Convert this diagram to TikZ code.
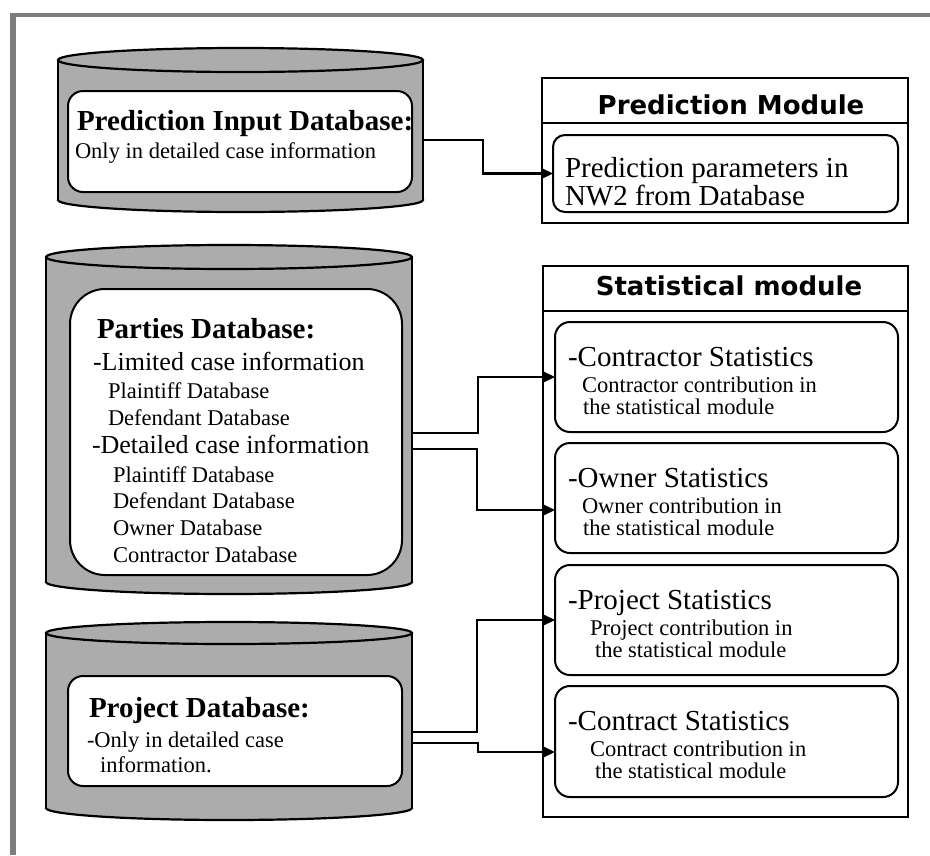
\documentclass[tikz,border=0pt]{standalone}
\usepackage{fontspec}
\setmainfont{Liberation Serif}
\newfontfamily\modfont{DejaVu Sans}
\usetikzlibrary{arrows.meta}

\definecolor{cylgray}{RGB}{172,172,172}
\definecolor{framegray}{RGB}{125,125,125}

\newcommand\fsHead{\fontsize{29}{29}\selectfont\bfseries}
\newcommand\fsBig{\fontsize{29}{29}\selectfont}
\newcommand\fsMid{\fontsize{26}{26}\selectfont}
\newcommand\fsSub{\fontsize{22.5}{22.5}\selectfont}
\newcommand\fsMod{\modfont\fontsize{26}{26}\selectfont\bfseries}

\begin{document}
\begin{tikzpicture}[x=1pt,y=-1pt,
  cyl/.style={line width=2.2pt, draw=black, fill=cylgray},
  body/.style={draw=none, inner sep=0, outer sep=0},
  innerbox/.style={draw=black, line width=2pt, fill=white, inner sep=0, outer sep=0},
  modbox/.style={draw=black, line width=2.8pt, fill=white, inner sep=0, outer sep=0},
  txt/.style={anchor=base west, inner sep=0, outer sep=0},
  modtitle/.style={anchor=base, inner sep=0, outer sep=0, font=\fsMod},
  conn/.style={line width=2.1pt, -{Triangle[length=12pt,width=11pt]}}
]
\useasboundingbox (0,0) rectangle (930,855);

% page frame strips (top and left)
\fill[framegray] (10,13) rectangle (930,17);
\fill[framegray] (10,13) rectangle (16,855);

% ---------- Prediction input database cylinder ----------
\node[body, minimum width=365pt, minimum height=140pt] (cylA) at (240.5,130) {};
\filldraw[cyl] (cylA.south) ellipse [x radius=182.5pt, y radius=12pt];
\fill[cylgray] (cylA.south west) rectangle (cylA.north east);
\draw[cyl, fill=none] (cylA.south west) -- (cylA.north west) (cylA.south east) -- (cylA.north east);
\filldraw[cyl] (cylA.north) ellipse [x radius=182.5pt, y radius=12pt];
\node[innerbox, rounded corners=15pt, minimum width=344pt, minimum height=101pt] (inA) at (240,141.5) {};
\node[txt, font=\fsHead] (inAt) at (77,130) {Prediction Input Database:};
\node[txt, font=\fsSub] (inAs) at (75,158) {Only in detailed case information};

% ---------- Parties database cylinder ----------
\node[body, minimum width=366pt, minimum height=325pt] (cylB) at (229,419.5) {};
\filldraw[cyl] (cylB.south) ellipse [x radius=183pt, y radius=12pt];
\fill[cylgray] (cylB.south west) rectangle (cylB.north east);
\draw[cyl, fill=none] (cylB.south west) -- (cylB.north west) (cylB.south east) -- (cylB.north east);
\filldraw[cyl] (cylB.north) ellipse [x radius=183pt, y radius=12pt];
\node[innerbox, rounded corners=35pt, minimum width=332pt, minimum height=286pt] (inB) at (236,432) {};
\node[txt, font=\fsHead] (inBt) at (97,338) {Parties Database:};
\node[txt, font=\fsMid] (inB1) at (93,370) {-Limited case information};
\node[txt, font=\fsSub] (inB2) at (108,398) {Plaintiff Database};
\node[txt, font=\fsSub] (inB3) at (108,425) {Defendant Database};
\node[txt, font=\fsMid] (inB4) at (92,453) {-Detailed case information};
\node[txt, font=\fsSub] (inB5) at (113,482) {Plaintiff Database};
\node[txt, font=\fsSub] (inB6) at (113,508) {Defendant Database};
\node[txt, font=\fsSub] (inB7) at (113,535) {Owner Database};
\node[txt, font=\fsSub] (inB8) at (113,562) {Contractor Database};

% ---------- Project database cylinder ----------
\node[body, minimum width=366pt, minimum height=175pt] (cylC) at (229,720.5) {};
\filldraw[cyl] (cylC.south) ellipse [x radius=183pt, y radius=12pt];
\fill[cylgray] (cylC.south west) rectangle (cylC.north east);
\draw[cyl, fill=none] (cylC.south west) -- (cylC.north west) (cylC.south east) -- (cylC.north east);
\filldraw[cyl] (cylC.north) ellipse [x radius=183pt, y radius=11pt];
\node[innerbox, rounded corners=15pt, minimum width=334pt, minimum height=110pt] (inC) at (235,731) {};
\node[txt, font=\fsHead] (inCt) at (89,717) {Project Database:};
\node[txt, font=\fsSub] (inC1) at (87,747) {-Only in detailed case};
\node[txt, font=\fsSub] (inC2) at (100,772) {information.};

% ---------- Prediction module ----------
\node[modbox, minimum width=366pt, minimum height=145pt] (pm) at (725,150.5) {};
\node[modbox, minimum width=366pt, minimum height=45pt] (pmHead) at (725,100.5) {};
\node[modtitle] (pmTitle) at (731,114) {Prediction Module};
\node[innerbox, rounded corners=12pt, minimum width=345pt, minimum height=77pt] (pin) at (725.5,173.5) {};
\node[txt, font=\fsBig] (pin1) at (565,177) {Prediction parameters in};
\node[txt, font=\fsBig] (pin2) at (565,205) {NW2 from Database};

% ---------- Statistical module ----------
\node[modbox, minimum width=365pt, minimum height=551pt] (sm) at (725.5,541.5) {};
\node[modbox, minimum width=365pt, minimum height=45pt] (smHead) at (725.5,288.5) {};
\node[modtitle] (smTitle) at (729,295) {Statistical module};

\node[innerbox, rounded corners=15pt, minimum width=343pt, minimum height=110pt] (st1) at (726.5,377) {};
\node[txt, font=\fsBig] (st1t) at (568,366) {-Contractor Statistics};
\node[txt, font=\fsSub] (st1a) at (582,392) {Contractor contribution in};
\node[txt, font=\fsSub] (st1b) at (583,414) {the statistical module};

\node[innerbox, rounded corners=15pt, minimum width=343pt, minimum height=110pt] (st2) at (726.5,498) {};
\node[txt, font=\fsBig] (st2t) at (568,487) {-Owner Statistics};
\node[txt, font=\fsSub] (st2a) at (582,513) {Owner contribution in};
\node[txt, font=\fsSub] (st2b) at (583,535) {the statistical module};

\node[innerbox, rounded corners=15pt, minimum width=343pt, minimum height=110pt] (st3) at (726.5,620) {};
\node[txt, font=\fsBig] (st3t) at (568,609) {-Project Statistics};
\node[txt, font=\fsSub] (st3a) at (590,635) {Project contribution in};
\node[txt, font=\fsSub] (st3b) at (595,657) {the statistical module};

\node[innerbox, rounded corners=15pt, minimum width=343pt, minimum height=111pt] (st4) at (726.5,741.5) {};
\node[txt, font=\fsBig] (st4t) at (568,730) {-Contract Statistics};
\node[txt, font=\fsSub] (st4a) at (590,756) {Contract contribution in};
\node[txt, font=\fsSub] (st4b) at (595,778) {the statistical module};

% ---------- connectors ----------
\draw[conn] ([yshift=-10pt]cylA.east) -- ++(60,0) |- (pin.west);
\draw[conn] ([yshift=-13.5pt]cylB.east) -- ++(66,0) |- (st1.west);
\draw[conn] ([yshift=-29.5pt]cylB.east) -- ++(65,0) |- ([yshift=-12pt]st2.west);
\draw[conn] ([yshift=-11.5pt]cylC.east) -- ++(65,0) |- (st3.west);
\draw[conn] ([yshift=-22.5pt]cylC.east) -- ++(66,0) |- ([yshift=-10.5pt]st4.west);
\end{tikzpicture}
\end{document}
